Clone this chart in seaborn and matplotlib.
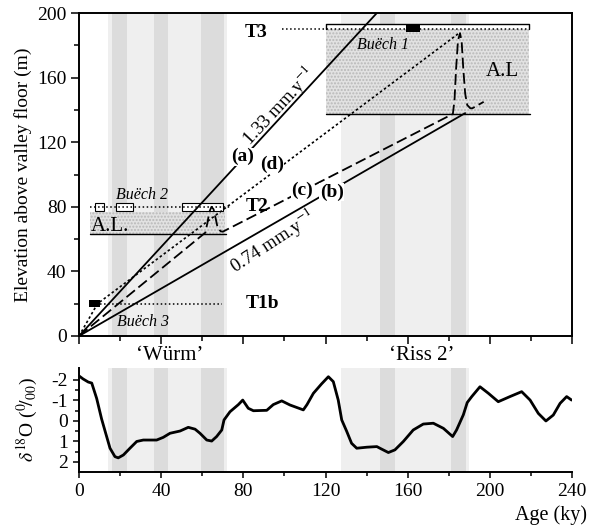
import matplotlib.pyplot as plt
import matplotlib.patches as mpatches
import seaborn as sns

# ---------------------------
# Data (ages in ky, elevations in m)
# ---------------------------
# incision scenarios
age_a = [0, 145]
elev_a = [0, 200]
age_b = [0, 188]
elev_b = [0, 138]
age_c = [0, 61.5, 62.5, 63.5, 64.5, 65.5, 66.5, 67.5, 69, 70,
         182, 182.8, 183.6, 184.5, 185.5, 186.3, 187.1, 188, 189, 190.5, 191.5, 197]
elev_c = [0, 64, 70, 77, 80, 78.5, 73, 67, 64.8, 64.6,
          137.5, 146, 166, 183, 187.5, 182, 165, 150, 143, 141, 141, 145]
age_d = [0, 9, 185.5]
elev_d = [0, 20, 188]

# terraces
t1b_marker = (4.9, 10.2, 17.8, 22.3)      # x0, x1, y0, y1
t1b_line = (10, 69.5, 19.6)
t2_boxes = [(7.8, 12.2), (17.9, 26.1), (50, 70)]
t2_box_y = (77.5, 82.5)
t2_line = (5.4, 74, 80)
t2_fill = (5.4, 71, 63, 77)
t3_fill = (120, 219, 137.5, 190)
t3_top = 193
t3_marker = (159, 166, 188.5, 193)
t3_line = (99, 219, 189.8)

# glacial stages
light_bands = [(14, 72), (127.5, 190)]
dark_bands = [(16, 23.4), (36.5, 43.3), (59.4, 70.6), (146.5, 154), (181, 188.5)]

# oxygen isotope curve
d18o_age = [0, 2, 4.5, 6.2, 8.6, 11, 13, 15.1, 17.5, 19.1, 21.6, 24.8, 28.1, 31.3, 37.8,
            41, 44.3, 49.2, 53.2, 56.5, 58.9, 62.2, 64.6, 67, 69.5, 70.6, 73.5, 77.6,
            79.7, 82.4, 84.9, 91.4, 94.6, 98.7, 102.7, 107.6, 109.2, 111, 114.1, 118,
            121.4, 123.8, 126.2, 127.9, 130.3, 132.7, 135.2, 140.1, 145, 146.5, 150.6,
            153.8, 157.9, 162.7, 167.6, 172.5, 177.4, 181.9, 183.8, 187.1, 189, 191.2,
            195.2, 199.3, 204.1, 209.8, 215.5, 219.6, 223.6, 227.3, 230.9, 234.2, 237.4, 239.8]
d18o = [-2.2, -2.05, -1.9, -1.85, -1.1, -0.1, 0.6, 1.33, 1.74, 1.8, 1.66, 1.33, 1.0, 0.93, 0.93,
        0.8, 0.6, 0.49, 0.31, 0.4, 0.6, 0.93, 0.98, 0.76, 0.44, -0.05, -0.45, -0.8,
        -1.02, -0.62, -0.5, -0.52, -0.8, -0.98, -0.78, -0.6, -0.54, -0.8, -1.35, -1.8,
        -2.16, -1.92, -1.02, -0.05, 0.5, 1.09, 1.33, 1.28, 1.25, 1.33, 1.54,
        1.41, 1.0, 0.44, 0.15, 0.11, 0.36, 0.76, 0.44, -0.3, -0.9, -1.19,
        -1.67, -1.35, -0.94, -1.19, -1.43, -1.02, -0.37, 0.0, -0.29, -0.86, -1.19, -1.02]

# ---------------------------
# Style
# ---------------------------
sns.set_style("ticks")
plt.rcParams['font.family'] = ['Liberation Serif', 'DejaVu Serif']
plt.rcParams['mathtext.fontset'] = 'stix'
plt.rcParams['hatch.linewidth'] = 1.0
for k in ('text.color', 'axes.labelcolor', 'xtick.color', 'ytick.color', 'axes.edgecolor'):
    plt.rcParams[k] = 'black'

fig = plt.figure(figsize=(5.99, 5.26), dpi=100)
ax1 = fig.add_axes([79 / 599, 1 - 336 / 526, 493 / 599, 323 / 526])
ax2 = fig.add_axes([79 / 599, 1 - 472 / 526, 493 / 599, 104 / 526])

for ax in (ax1, ax2):
    for x0, x1 in light_bands:
        ax.axvspan(x0, x1, color='#efefef', lw=0, zorder=0)
    for x0, x1 in dark_bands:
        ax.axvspan(x0, x1, color='#dcdcdc', lw=0, zorder=0)

# ---------------------------
# Top panel
# ---------------------------
# stippled alluvial fills
for x0, x1, y0, y1 in (t2_fill, t3_fill):
    ax1.add_patch(mpatches.Rectangle((x0, y0), x1 - x0, y1 - y0, facecolor='#e2e2e2',
                                     edgecolor='#b8b8b8', hatch='.....', lw=0, zorder=1))
    ax1.plot([x0, x1 + 0.5], [y0, y0], color='black', lw=1.0, zorder=2)

# T3 terrace
ax1.add_patch(mpatches.Rectangle((t3_fill[0], t3_line[2]), t3_fill[1] - t3_fill[0],
                                 t3_top - t3_line[2], facecolor='white', lw=0, zorder=2))
ax1.plot([t3_fill[0], t3_fill[0], t3_fill[1], t3_fill[1]],
         [t3_line[2], t3_top, t3_top, t3_line[2]], color='black', lw=1.0, zorder=3)
ax1.plot(t3_line[:2], [t3_line[2]] * 2, color='black', ls=':', lw=1.1, zorder=3)
ax1.add_patch(mpatches.Rectangle((t3_marker[0], t3_marker[2]), t3_marker[1] - t3_marker[0],
                                 t3_marker[3] - t3_marker[2], facecolor='black', lw=0, zorder=4))

# T2 terrace
for x0, x1 in t2_boxes:
    ax1.add_patch(mpatches.Rectangle((x0, t2_box_y[0]), x1 - x0, t2_box_y[1] - t2_box_y[0],
                                     facecolor='white', edgecolor='black', lw=0.8, zorder=3))
ax1.plot(t2_line[:2], [t2_line[2]] * 2, color='black', ls=':', lw=1.1, zorder=4)

# T1b terrace
ax1.plot(t1b_line[:2], [t1b_line[2]] * 2, color='black', ls=':', lw=1.1, zorder=3)
ax1.add_patch(mpatches.Rectangle((t1b_marker[0], t1b_marker[2]), t1b_marker[1] - t1b_marker[0],
                                 t1b_marker[3] - t1b_marker[2], facecolor='black', lw=0, zorder=4))

# incision scenarios
sns.lineplot(x=age_a, y=elev_a, ax=ax1, color='black', lw=1.3, sort=False, estimator=None, zorder=5)
sns.lineplot(x=age_b, y=elev_b, ax=ax1, color='black', lw=1.3, sort=False, estimator=None, zorder=5)
sns.lineplot(x=age_c, y=elev_c, ax=ax1, color='black', lw=1.3, sort=False, estimator=None,
             linestyle=(0, (6, 2.5)), zorder=5)
sns.lineplot(x=age_d, y=elev_d, ax=ax1, color='black', lw=1.2, sort=False, estimator=None,
             linestyle=(0, (1.5, 1.5)), zorder=5)

bold = dict(fontsize=14, fontweight='bold', ha='center', va='center')
ax1.text(86, 188, 'T3', **bold)
ax1.text(86.5, 80, 'T2', **bold)
ax1.text(89.5, 20, 'T1b', **bold)
for lab, x, y in [('(a)', 79.4, 111), ('(d)', 94, 106), ('(c)', 108.6, 90.4), ('(b)', 123, 89)]:
    ax1.text(x, y, lab, fontsize=14, fontweight='bold', ha='center', va='center',
             bbox=dict(facecolor='white', edgecolor='none', pad=0.3), zorder=6)

ital = dict(fontsize=11.5, fontstyle='italic', ha='center', va='center')
ax1.text(147.8, 180, 'Buëch 1', **ital)
ax1.text(30.7, 87.5, 'Buëch 2', **ital)
ax1.text(31, 8.8, 'Buëch 3', **ital)
ax1.text(206, 163.5, 'A.L', fontsize=15, ha='center', va='center')
ax1.text(15, 67.5, 'A.L.', fontsize=15, ha='center', va='center')
ax1.text(97, 142.5, '1.33 mm.y$^{-1}$', fontsize=13.5, rotation=47, ha='center', va='center')
ax1.text(94, 58.5, '0.74 mm.y$^{-1}$', fontsize=13.5, rotation=33, ha='center', va='center')

ax1.set_xlim(0, 240)
ax1.set_ylim(0, 200)
ax1.set_xticks(range(0, 241, 40))
ax1.set_xticks(range(20, 240, 40), minor=True)
ax1.set_yticks(range(0, 201, 40))
ax1.set_yticks(range(20, 200, 40), minor=True)
ax1.set_xticklabels([])
ax1.set_ylabel('Elevation above valley floor (m)', fontsize=14)
ax1.yaxis.set_label_coords(-0.095, 0.5)
ax1.tick_params(axis='both', which='major', direction='out', length=5.5, width=1.1, labelsize=14)
ax1.tick_params(axis='both', which='minor', direction='out', length=3.5, width=1.1)
for s in ax1.spines.values():
    s.set_linewidth(1.4)

fig.text(170 / 599, 1 - 356 / 526, '\u2018W\u00fcrm\u2019', fontsize=15, ha='center', va='center')
fig.text(422 / 599, 1 - 356 / 526, '\u2018Riss 2\u2019', fontsize=15, ha='center', va='center')

# ---------------------------
# Bottom panel
# ---------------------------
sns.lineplot(x=d18o_age, y=d18o, ax=ax2, color='black', lw=2.0, sort=False, estimator=None)
ax2.set_xlim(0, 240)
ax2.set_ylim(2.49, -2.585)
ax2.set_yticks([-2, -1, 0, 1, 2])
ax2.set_yticklabels(['-2', '-1', '0', '1', '2'])
ax2.set_yticks([-1.5, -0.5, 0.5, 1.5], minor=True)
ax2.set_xticks(range(0, 241, 40))
ax2.set_xticks(range(20, 240, 40), minor=True)
ax2.set_ylabel('$\\delta^{18}$O ($^{0}\\!/_{00}$)', fontsize=14)
ax2.yaxis.set_label_coords(-0.08, 0.5)
ax2.set_xlabel('')
ax2.tick_params(axis='both', which='major', direction='out', length=4.5, width=1.1, labelsize=14)
ax2.tick_params(axis='both', which='minor', direction='out', length=3, width=1.1)
sns.despine(ax=ax2)
for s in ('left', 'bottom'):
    ax2.spines[s].set_linewidth(1.4)
fig.text(587 / 599, 1 - 515 / 526, 'Age (ky)', fontsize=14.5, ha='right', va='center')

fig.savefig('out.png', dpi=100)
